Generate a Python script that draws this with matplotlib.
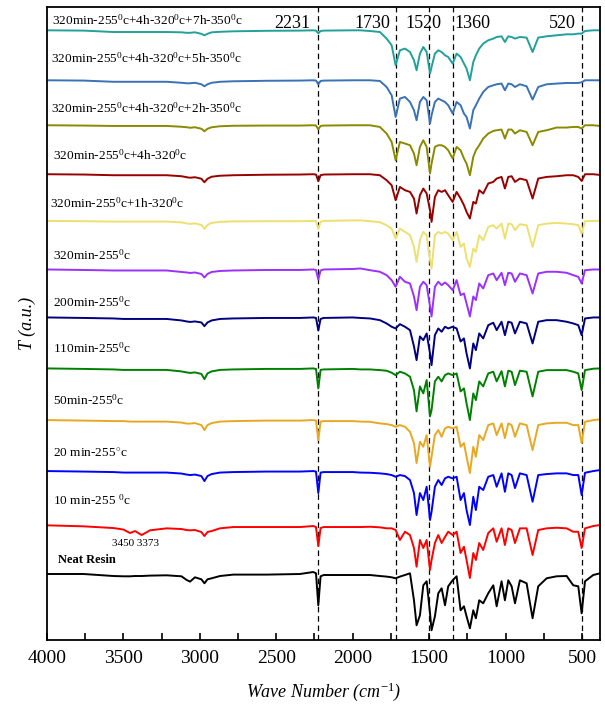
import matplotlib
matplotlib.use("Agg")
import matplotlib.pyplot as plt
from matplotlib.ticker import MultipleLocator, NullLocator

plt.rcParams["font.family"] = ["Liberation Serif", "DejaVu Serif"]
plt.rcParams["mathtext.fontset"] = "custom"
plt.rcParams["mathtext.rm"] = "Liberation Serif"
plt.rcParams["mathtext.it"] = "Liberation Serif:italic"

# wavenumber grid (cm-1) shared by all spectra
wavenumber = [4000, 3760, 3566, 3500, 3457, 3424, 3381, 3326, 3217, 3120,
              3086, 3064, 3032, 2990, 2970, 2950, 2923, 2868, 2781, 2563,
              2345, 2258, 2240, 2225, 2210, 2190, 2000, 1950,
              1887, 1822, 1778, 1745, 1719, 1691, 1658, 1625, 1599, 1582,
              1560, 1538, 1516, 1494, 1484, 1462, 1440, 1418, 1396, 1375,
              1346, 1320, 1294, 1272, 1255, 1233, 1211, 1194, 1172, 1146,
              1113, 1080, 1058, 1026, 1004, 982, 960, 938, 906, 862,
              823, 786, 731, 666, 600, 557, 524, 502, 480, 426, 382]

# absorption depth below each curve's own baseline (a.u.), bottom curve first
neat_resin = [0.7, 0.7, 2.7, 3, 3, 2.7, 2.7, 2.3, 2, 3, 6.7, 8.3, 4, 6, 10, 6, 5, 2.7, 1.3, 1.3,
              0.7, -1.3, 0, 32, 3, 1.7, 1.7, 1.7,
              1.7, 2.7, 3.3, 4, 5, 3.3, 1.7, 0, 27, 52, 42, 12, 8, 40, 57, 43, 20, 15, 32, 13,
              7, 3, 37, 33, 43, 55, 37, 45, 27, 30, 20, 12, 33, 8, 27, 7, 13, 30, 7, 10,
              45, 13, 5, 3, 2.7, 12, 13, 40, 8, 1.7, 0]
red_curve = [-0.7, 0.3, 2, 3.5, 7, 5, 9, 4.3, 2.3, 3, 4, 4.3, 4, 6, 10, 6, 5, 2.3, 1, 1,
             1, 0, 1, 20, 2, 1, 1, 1,
             0.7, 1.3, 2.3, 2.3, 4, 14, 5.7, 9, 22, 40.7, 14, 22, 14, 44, 34, 17, 9, 17, 11, 5.7,
             9, 5.7, 27, 20.7, 34, 52, 27, 34, 17, 24, 7, 2.3, 15.7, 2.3, 19, 2.3, 4, 17, 2.3, 2.3,
             29, 4, 2.3, 1.7, 2.3, 5.7, 5.7, 22, 2.3, 0, -1]
min10 = [0, 0.5, 1, 1.5, 1.5, 1.5, 1.5, 1.5, 1.5, 2.5, 3.5, 4, 3.5, 5, 10, 5, 3, 1.5, 1, 0.5,
         0.5, 0, 0.5, 22, 1.5, 1, 1, 1.5,
         1.7, 2.3, 3, 4, 5.7, 4, 5, 9, 22, 44, 22, 29, 15.7, 49, 40.7, 15.7, 9, 14, 7.3, 5.7,
         7.3, 5.7, 29, 22, 39, 54, 25.7, 39, 15.7, 19, 5.7, 4, 15.7, 2.3, 20.7, 2.3, 4, 17, 2.3, 4,
         30.7, 4, 3, 2.3, 2.3, 4, 4, 24, 1.7, 0, -1]
min20 = [0, 0.5, 1, 1, 1.5, 1.5, 1.5, 1.5, 1.5, 2.5, 3.5, 3.5, 3, 5, 10, 5, 3, 1.5, 1, 0.5,
         0.5, 0, 0.5, 20, 1.5, 1, 1, 1.5,
         1.7, 3.3, 4, 5, 6.7, 5, 6.7, 11.7, 23, 43, 21.7, 26.7, 15, 46.7, 36.7, 15, 10, 16.7, 8.3, 6.7,
         8.3, 6.7, 26.7, 23, 36.7, 53, 26.7, 36.7, 15, 20, 5, 3.3, 15, 3.3, 18, 3.3, 5, 16.7, 3.3, 5,
         30, 5, 3.3, 2.7, 2.7, 5, 5, 23, 1.7, 0, -0.7]
min50 = [0, 0.5, 1, 1.5, 1.5, 1.5, 1.5, 1.5, 1.5, 3, 4, 4.5, 4, 5.5, 10.7, 5, 3, 1.5, 1, 0.5,
         0.5, 0, 0.5, 20, 1.5, 1, 0.5, 1,
         1, 1.7, 2.3, 4.3, 6.7, 3.3, 5, 8.3, 21.7, 43, 18, 25, 11.7, 48, 41.7, 13, 8.3, 13, 6.7, 5,
         6.7, 5, 23, 20, 35, 51.7, 25, 31.7, 13, 18, 5, 3.3, 13, 2.7, 18, 2.3, 3.3, 16.7, 2.3, 3.3,
         28, 3.3, 1.7, 1.7, 1.7, 3.3, 5, 21.7, 1.7, 0.3, 0]
min110 = [0, 0.5, 1, 1.5, 1.5, 1.5, 1.5, 1.5, 1.5, 3, 4, 4.5, 4, 5, 8.7, 5, 3, 1.5, 1, 0.5,
          0.5, 0, 0.5, 13, 1.5, 0.5, 0, 0.5,
          1, 2.7, 6, 9.3, 11, 6.7, 9.3, 12.7, 29, 42.7, 19, 22.7, 16, 36, 47.7, 17.7, 11, 14.3, 9.3, 11,
          9.3, 11, 24, 21, 36, 51, 26, 32.7, 16, 21, 7.7, 5.3, 12.7, 4.3, 17.7, 4.3, 5.3, 16, 4.3, 6,
          26, 4.3, 2.7, 2.7, 4.3, 6, 7.7, 17.7, 1, 0, 0]
min200 = [0, 0.5, 1, 1, 1, 1, 1, 1, 1, 2.5, 3, 3.5, 3, 4.5, 8, 4.5, 2.5, 1.5, 1, 0.5,
          0.5, 0, 0.5, 10, 1, 0, -0.5, -1,
          0.7, 2.3, 5.7, 10.7, 17.3, 7.3, 12.3, 14, 27, 40.7, 17.3, 12.3, 15.7, 37, 47, 17.3, 12.3, 15.7, 13, 15.7,
          20.7, 10.7, 25.7, 24, 34, 47, 27, 30.7, 14, 19, 5.7, 4, 10.7, 3.3, 15.7, 3.3, 4, 12.3, 4, 5.7,
          24, 4, 2.3, 2.3, 3.3, 5.7, 7.3, 14, 0.7, 0, 0]
min320 = [0, 0.3, 0.7, 0.7, 0.7, 0.7, 0.7, 0.7, 0.7, 1.5, 2.5, 3, 2.5, 4, 8, 4, 2, 1, 0.5, 0.3,
          0.3, 0, 0.3, 8, 1, 0, -0.5, -0.5,
          0.3, 1.3, 4.3, 7.7, 17.7, 7.7, 11, 14.3, 26, 41, 19.3, 11, 14.3, 39.3, 47.7, 14.3, 11, 12.7, 11, 12.7,
          19.3, 11, 26, 22.7, 37.7, 46, 27.7, 31, 14.3, 19.3, 6, 4.3, 7.7, 2.7, 17.7, 2.7, 3.3, 9.3, 3.3, 4.3,
          26, 4.3, 2.7, 2, 2.7, 3.3, 4.3, 12.7, 0.3, 0, 0]
h1_320 = [0, 0.3, 1, 1, 1, 1, 1, 1, 1, 2, 3, 3.5, 3, 4.5, 8, 4.5, 2.5, 1.5, 1, 0.5,
          0.3, 0, 0.3, 7, 1, 0.3, 0, 0,
          0, 1, 6, 11, 26, 12.7, 16, 17.7, 24.3, 39.3, 21, 14.3, 19.3, 36, 47.7, 22.7, 16, 17.7, 16, 21,
          27.7, 17.7, 24.3, 31, 37.7, 44.3, 27.7, 29.3, 16, 19.3, 9.3, 7.7, 4.3, 2.7, 14.3, 2.7, 2, 7.7, 4.3, 6,
          24.3, 4.3, 2.7, 2, 1, 1, 2.7, 6.7, 0, 0, 0.7]
h4_320 = [0, 0.3, 0.7, 0.7, 0.7, 0.7, 0.7, 0.7, 0.7, 1.5, 2, 2.5, 2, 3.5, 6, 3.5, 2, 1, 0.5, 0.3,
          0.3, 0, 0.3, 4, 0.7, 0.3, 0, 0,
          0, 1.7, 8.3, 16.7, 35, 16.7, 18.3, 20, 28.3, 40, 21.7, 15, 21.7, 48.3, 38.3, 21.7, 20, 20, 21.7, 25,
          33.3, 21.7, 25, 33.3, 38.3, 50, 31.7, 25, 20, 13.3, 8.3, 5.7, 5, 4.3, 13.3, 4.3, 4.3, 8.3, 5, 6.7,
          20, 6.7, 5, 2.3, 2.3, 1.7, 1.7, 3.3, 0, 0, 0.7]
h2_350 = [0, 0.3, 1.5, 1.5, 1.5, 1.5, 1.5, 1.5, 1.5, 2.5, 3, 3, 2.5, 4, 6, 4, 2.5, 1.5, 1, 0.5,
          0.3, 0, 0.3, 4, 0.7, 0.3, 0, 0,
          0, 0.7, 6.7, 15, 36.7, 18.3, 16.7, 21.7, 30, 40, 21.7, 16.7, 20, 43.3, 35, 21.7, 18.3, 20, 21.7, 25,
          33.3, 21.7, 25, 33.3, 36.7, 48.3, 30, 25, 18.3, 11.7, 6.7, 5, 4, 3.3, 10, 3.3, 4, 6.7, 4, 6,
          19.3, 6.7, 4, 3.3, 2.7, 2.7, 2.7, 2, 0, 0, 0]
h5_350 = [0, 0.3, 1.7, 1.7, 1.7, 1.7, 1.7, 1.7, 1.7, 2, 2.5, 2.5, 2, 3.5, 5, 3.5, 2, 1.5, 1, 0.5,
          0.3, 0, 0.3, 3, 0.7, 0.3, 0, 0,
          0.7, 1.7, 8.3, 15, 35, 20, 18.3, 21.7, 30, 40, 23.3, 16.7, 21.7, 43.3, 36.7, 23.3, 20, 21.7, 25, 26.7,
          33.3, 23.3, 26.7, 33.3, 38.3, 50, 31.7, 25, 18.3, 13.3, 10, 8.3, 6.7, 6, 11.7, 6, 6.7, 8.3, 6.7, 7.3,
          21.7, 7.3, 6, 5, 4, 4, 3.3, 3.3, 0.7, 0, 0]

spectra = [neat_resin, red_curve, min10, min20, min50, min110,
           min200, min320, h1_320, h4_320, h2_350, h5_350]
# baseline level of each spectrum in the stack (a.u.)
levels = [66.7, 114, 169, 220, 271.7, 322.7, 370.7, 419.3, 466, 515, 560, 610]
colors = ["#000000", "#ff0000", "#0000ff", "#e8a823", "#008000", "#000080",
          "#9b30ff", "#eee070", "#990000", "#8a8a00", "#3a72b5", "#22a09a"]

labels = ["", "10 min-255 $^{0}$c", "20 min-255$^{\\circ}$c", "50min-255$^{0}$c",
          "110min-255$^{0}$c", "200min-255$^{0}$c", "320min-255$^{0}$c",
          "320min-255$^{0}$c+1h-320$^{0}$c", "320min-255$^{0}$c+4h-320$^{0}$c",
          "320min-255$^{0}$c+4h-320$^{0}$c+2h-350$^{0}$c",
          "320min-255$^{0}$c+4h-320$^{0}$c+5h-350$^{0}$c",
          "320min-255$^{0}$c+4h-320$^{0}$c+7h-350$^{0}$c"]
label_x = [3930, 3961, 3961, 3961, 3961, 3961, 3961, 3980, 3961, 3974, 3974, 3967]
label_y = [80, 140, 187, 240, 292, 338, 385, 437, 485, 532, 582, 620]

band_pos = [2225, 1719, 1499, 1346, 498]
band_labels = ["2231", "1730", "1520", "1360", "520"]
band_text_x = [2280, 1756, 1537, 1337, 539]
band_align = ["right", "right", "center", "left", "right"]

fig = plt.figure(figsize=(6.05, 7.11), dpi=100)
ax = fig.add_axes([0.0777, 0.0999, 0.914, 0.8898])

for vals, lev, col in zip(spectra, levels, colors):
    ax.plot(wavenumber, [lev - v for v in vals], color=col, lw=1.4)

for pos in band_pos:
    ax.axvline(pos, color="black", lw=0.9, ls=(0, (4.5, 3)), zorder=0)
for tx, lab, ha in zip(band_text_x, band_labels, band_align):
    ax.text(tx, 617, lab, fontsize=13, ha=ha, va="center")

for lab, lx, ly in zip(labels, label_x, label_y):
    if lab:
        ax.text(lx, ly, lab, fontsize=9.6, ha="left", va="center")
ax.text(3930, 80, "Neat Resin", fontsize=9, fontweight="bold", ha="left", va="center")
ax.text(3575, 97, "3450 3373", fontsize=8, ha="left", va="center")

ax.set_xlim(4000, 382)
ax.set_ylim(0, 633)
ax.xaxis.set_major_locator(MultipleLocator(500))
ax.xaxis.set_minor_locator(MultipleLocator(250))
ax.yaxis.set_major_locator(NullLocator())
ax.tick_params(axis="x", which="both", direction="in", length=5, width=1.2,
               labelsize=14, pad=7, top=False)
for sp in ax.spines.values():
    sp.set_linewidth(1.3)

ax.set_xlabel("Wave Number (cm$^{\\mathit{-1}}$)", fontsize=13, style="italic", labelpad=10)
ax.set_ylabel("T (a.u.)", fontsize=13, style="italic", labelpad=8)

fig.savefig("out.png", dpi=100)
